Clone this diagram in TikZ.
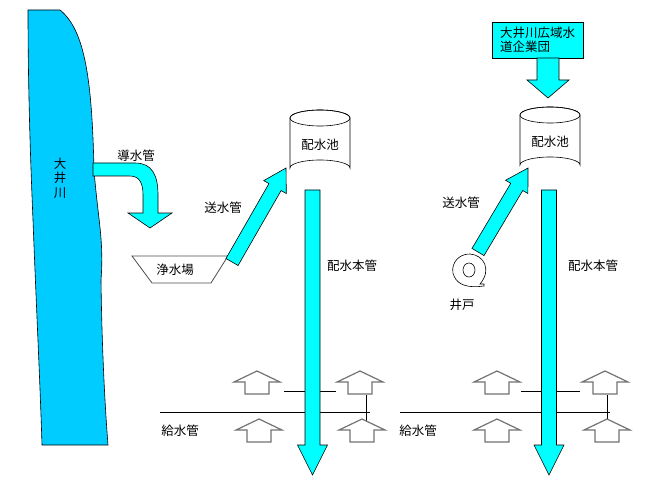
\documentclass[tikz,border=0pt]{standalone}
\usepackage{fontspec}
\setmainfont{Noto Sans CJK JP}
\usetikzlibrary{calc}
\definecolor{aq}{RGB}{0,255,255}
\definecolor{riv}{RGB}{0,204,255}
\tikzset{fill1/.style={fill=aq,draw=black,line width=0.6pt},
 lbl/.style={font=\fontsize{12.5}{14.5}\selectfont,inner sep=0pt},
 house/.style={draw=gray!90!black,line width=1.2pt,fill=white},
 pipe/.style={line width=0.8pt}}
\newcommand\fatarrow[5]{% from, to, half shaft, half head, head length
 \coordinate (fa1) at (#1); \coordinate (fa2) at (#2);
 \coordinate (faH) at ($(fa2)!#5pt!(fa1)$);
 \filldraw[fill1] ($(fa1)!#3pt!90:(fa2)$) -- ($(faH)!#3pt!-90:(fa1)$) -- ($(faH)!#4pt!-90:(fa1)$) -- (fa2) -- ($(faH)!#4pt!90:(fa1)$) -- ($(faH)!#3pt!90:(fa1)$) -- ($(fa1)!#3pt!-90:(fa2)$) -- cycle;}
\newcommand\house[2]{\filldraw[house] (#1-12,#2+12) -- (#1-12,#2) -- (#1-23,#2) -- (#1,#2-11) -- (#1+23,#2) -- (#1+12,#2) -- (#1+12,#2+12) -- cycle;}
\newcommand\tank[3]{\filldraw[fill=white,draw=black,line width=0.6pt] (#1-30,#2) -- (#1-30,#2+50) arc[start angle=180,end angle=360,x radius=30,y radius=8] -- (#1+30,#2) arc[start angle=0,end angle=-180,x radius=30,y radius=8] -- cycle;
 \draw[line width=0.6pt] (#1,#2) ellipse[x radius=30,y radius=8];
 \node[lbl] (#3) at (#1,#2+27) {配水池};}
\begin{document}
\begin{tikzpicture}[x=1pt,y=-1pt]
\useasboundingbox (0,0) rectangle (668,494);
% river
\filldraw[fill=riv,draw=black,line width=0.6pt] (28,10) -- (60,10) .. controls (85,30) and (92,80) .. (94,170) .. controls (98,220) and (104,240) .. (101,280) .. controls (102,360) and (106,420) .. (108,445) -- (42,445) .. controls (40,380) and (36,300) .. (33,220) .. controls (30,150) and (28,80) .. cycle;
\node[lbl,align=center] (river) at (60,178) {大\\井\\川};
% conduit
\filldraw[fill1] (93,163) -- (135,163) .. controls (152,163) and (158,175) .. (158,195) -- (158,213) -- (172,213) -- (150,228) -- (128,213) -- (143,213) -- (143,195) .. controls (143,184) and (140,176) .. (130,176) -- (93,176) -- cycle;
\node[lbl] (l1) at (136,156) {導水管};
% purification plant
\draw[line width=0.8pt,draw=black!70] (132,256) -- (228,256) -- (211,283) -- (152,283) -- cycle;
\node[lbl] (jou) at (175,270) {浄水場};
% left tank
\tank{320}{118}{t1}
\fatarrow{232,262}{286,168}{7}{13}{22}
\node[lbl] (l2) at (223,208) {送水管};
\node[lbl] (l3) at (352,266) {配水本管};
% right side
\node[draw=black,fill=aq,lbl,align=left,minimum width=91pt,minimum height=36pt,inner sep=2pt] (org) at (537.5,40) {大井川広域水\\道企業団};
\fatarrow{548,58}{548,98}{11}{21}{18}
\tank{550}{115}{t2}
\fatarrow{478,252}{528,168}{7}{13}{22}
\node[lbl] (l4) at (461,203) {送水管};
\node[lbl] (l5) at (593,266) {配水本管};
% well
\draw[line width=0.6pt] (484,284) -- (480,284) .. controls (492,270) and (484,255) .. (470,254) .. controls (455,254) and (450,268) .. (454,276) .. controls (458,286) and (470,288) .. (484,286) -- cycle;
\draw[line width=0.6pt] (469,270) ellipse[x radius=6,y radius=7];
\node[lbl] (ido) at (462,305) {井戸};
% houses and pipes left
\draw[pipe] (160,412) -- (370,412);
\draw[pipe] (284,391) -- (336,391);
\draw[pipe] (366,395) -- (366,422);
\house{257}{382}\house{360}{382}\house{259}{430}\house{362}{430}
\fatarrow{312.5,190}{312.5,475}{7.5}{15}{30}
\node[lbl] (k1) at (180,431) {給水管};
% right
\draw[pipe] (400,412) -- (610,412);
\draw[pipe] (521,391) -- (580,391);
\draw[pipe] (607,395) -- (607,422);
\house{497}{382}\house{605}{382}\house{497}{430}\house{607}{430}
\fatarrow{549,190}{549,475}{7.5}{15}{30}
\node[lbl] (k2) at (418,431) {給水管};
\end{tikzpicture}
\end{document}
